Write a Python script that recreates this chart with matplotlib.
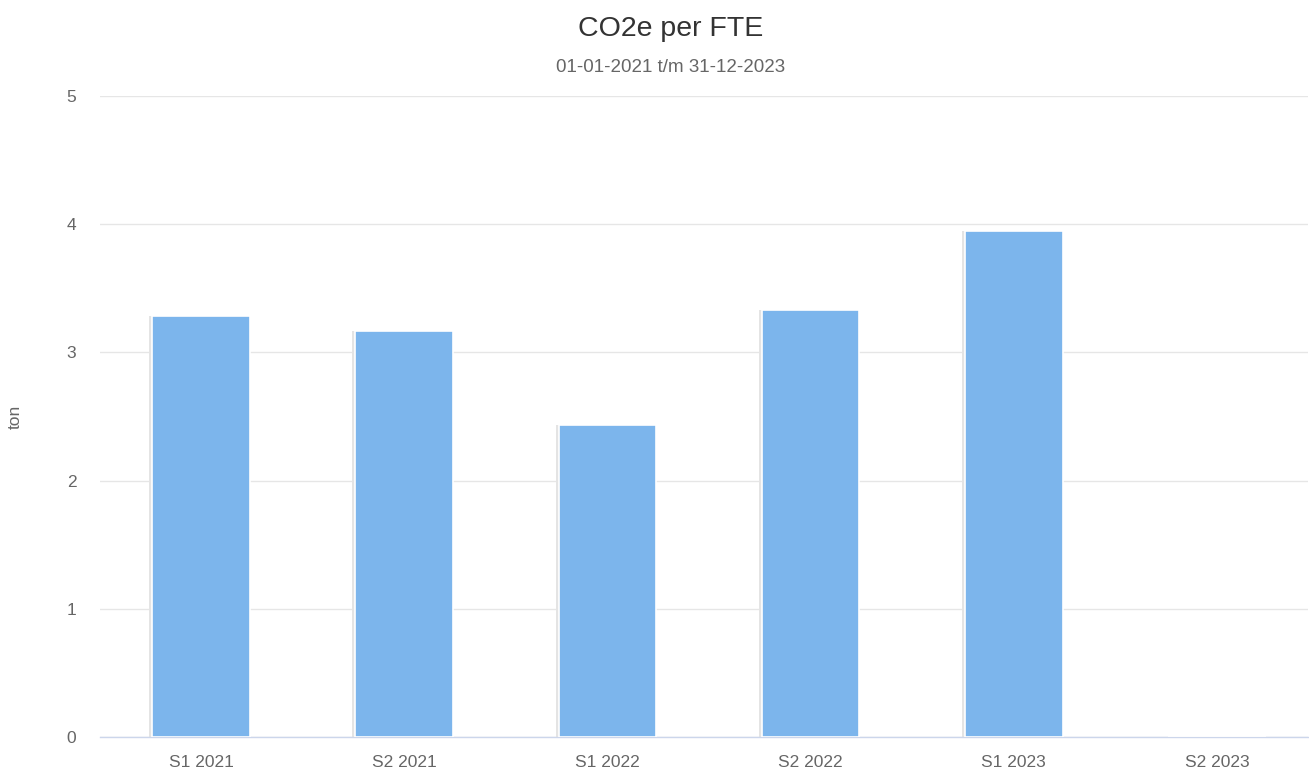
import matplotlib.pyplot as plt
import numpy as np

plt.rcParams['font.family'] = ['Liberation Sans', 'DejaVu Sans']

# data
categories = ['S1 2021', 'S2 2021', 'S1 2022', 'S2 2022', 'S1 2023', 'S2 2023']
values = [3.28, 3.17, 2.43, 3.33, 3.95, 0]
yticks = [0, 1, 2, 3, 4, 5]

fig = plt.figure(figsize=(13.09, 7.69), dpi=100)
ax = fig.add_axes([0.0764, 0.0416, 0.9228, 0.8336])

x = np.arange(len(categories))
# faint shadow behind bars
ax.bar(x - 0.01, values, width=0.49, color='#e4e4e4', edgecolor='none', zorder=2)
ax.bar(x, values, width=0.48, color='#7cb5ec', edgecolor='white', linewidth=1.2, zorder=3)

ax.set_xlim(-0.497, 5.448)
ax.set_ylim(0, 5)
ax.set_yticks(yticks)
ax.set_xticks(x)
ax.set_xticklabels(categories)
ax.grid(axis='y', color='#e6e6e6', linewidth=1, zorder=0)
ax.set_axisbelow(True)

for s in ['top', 'right', 'left']:
    ax.spines[s].set_visible(False)
ax.spines['bottom'].set_color('#ccd6eb')
ax.spines['bottom'].set_linewidth(1)
ax.tick_params(axis='both', length=0, colors='#666666', labelsize=12.5)
ax.tick_params(axis='y', pad=17)
ax.tick_params(axis='x', pad=13)

ax.set_ylabel('ton', color='#666666', fontsize=12.5)
ax.yaxis.set_label_coords(-0.0637, 0.5)

fig.text(0.5126, 0.9532, 'CO2e per FTE', ha='center', va='baseline', fontsize=20.5, color='#333333')
fig.text(0.5126, 0.9064, '01-01-2021 t/m 31-12-2023', ha='center', va='baseline', fontsize=13.5, color='#666666')

fig.savefig('out.png', dpi=100)
